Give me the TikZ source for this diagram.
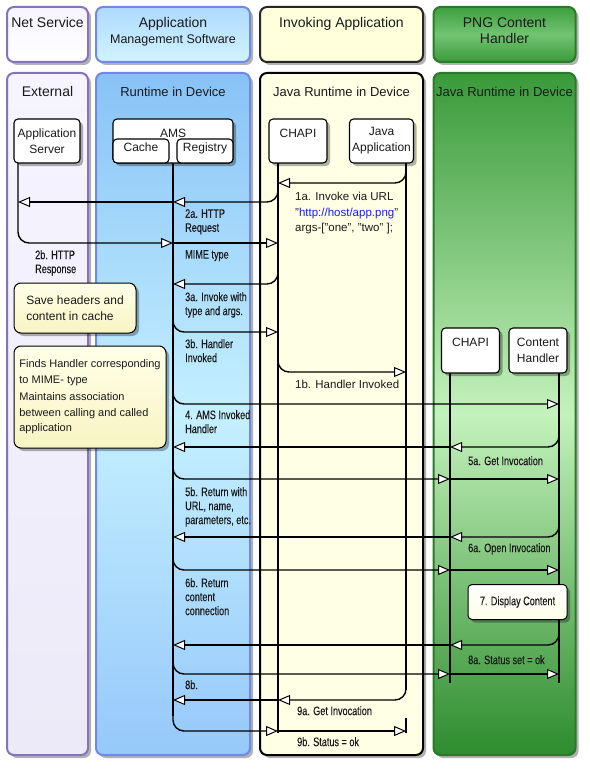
\documentclass[tikz,border=0pt]{standalone}
\usepackage{fontspec}
\setmainfont{Liberation Sans}
\newfontfamily\narrowfont[FakeStretch=0.74,FakeBold=0.25]{Liberation Sans}
\usetikzlibrary{arrows.meta,shadows}
\definecolor{lavB}{HTML}{8474BC}
\definecolor{lavTop}{HTML}{F6F4FF}
\definecolor{lavBot}{HTML}{ECEAF8}
\definecolor{blueB}{HTML}{7088E6}
\definecolor{blueTop}{HTML}{88C2F6}
\definecolor{blueMid}{HTML}{C4F0FF}
\definecolor{blueBot}{HTML}{96C8FA}
\definecolor{blueHTop}{HTML}{AEDAFF}
\definecolor{blueHBot}{HTML}{D2F4FF}
\definecolor{yelF}{HTML}{FFFFE6}
\definecolor{yelH}{HTML}{FFFFDC}
\definecolor{grnB}{HTML}{2A7A2A}
\definecolor{grnTop}{HTML}{3A9A3A}
\definecolor{grnMid}{HTML}{C4F2BC}
\definecolor{grnBot}{HTML}{2E8C2E}
\definecolor{grnHTop}{HTML}{3E9E3E}
\definecolor{grnHMid}{HTML}{72C472}
\definecolor{noteTop}{HTML}{FFFFE8}
\definecolor{noteBot}{HTML}{F8F4C4}
\definecolor{linkblue}{HTML}{1A1AFF}
\definecolor{ink}{HTML}{1A1A1A}
\tikzset{
  myshadow/.style={drop shadow={shadow xshift=3pt,shadow yshift=-3pt,opacity=0.3,fill=black}},
  lane/.style={rounded corners=7pt, line width=2pt, inner sep=0pt, myshadow},
  obj/.style={draw=black, line width=1.1pt, rounded corners=4pt, fill=white, inner sep=0pt,
    align=center, font=\fontsize{12}{16}\selectfont, text=ink, myshadow},
  sub/.style={draw=black, line width=1.1pt, rounded corners=4pt, fill=white, inner sep=0pt,
    align=center, font=\fontsize{12}{16}\selectfont, text=ink, text height=6pt, text depth=4.5pt},
  note/.style={draw=black, line width=1pt, rounded corners=7pt, top color=noteTop, bottom color=noteBot,
    inner sep=0pt, align=left, text=ink, myshadow},
  life/.style={line width=1.3pt},
  msg/.style={line width=1.4pt, rounded corners=11pt,
    -{Triangle[length=12pt,width=10pt,fill=white,line width=1pt]}},
  lbl/.style={font=\narrowfont\fontsize{12.3}{14}\selectfont, anchor=north west, inner sep=0pt, align=left, text=ink},
  rlbl/.style={font=\fontsize{11.5}{15.5}\selectfont, anchor=north west, inner sep=0pt, align=left, text=ink},
  htxt/.style={font=\fontsize{14}{16}\selectfont, anchor=base, inner sep=0pt, text=ink},
  ttxt/.style={font=\fontsize{13}{16}\selectfont, anchor=base, inner sep=0pt, text=ink},
}
\begin{document}
\begin{tikzpicture}[x=1pt,y=-1pt]
\useasboundingbox[fill=white] (0,0) rectangle (589,773);

% headers
\node[lane, draw=lavB, top color=lavTop, bottom color=white, minimum width=81pt, minimum height=55pt] (nsHead) at (47.5,34.5) {};
\node[lane, draw=blueB, top color=blueHTop, bottom color=blueHBot, minimum width=154pt, minimum height=55pt] (amsHead) at (173,34.5) {};
\node[lane, draw=black!85, fill=yelH, minimum width=163pt, minimum height=55pt] (invHead) at (341.5,34.5) {};
\node[lane, draw=grnB, top color=grnHTop, bottom color=grnTop, middle color=grnHMid, minimum width=142pt, minimum height=55pt] (pngHead) at (504.5,34.5) {};

\node[htxt] (tNs) at (47.5,28) {Net Service};
\node[htxt] (tAms1) at (173,28) {Application};
\node[htxt, font=\fontsize{12.5}{15}\selectfont] (tAms2) at (173,43.5) {Management Software};
\node[htxt] (tInv) at (341.5,28) {Invoking Application};
\node[htxt] (tPng1) at (504.5,28) {PNG Content};
\node[htxt] (tPng2) at (504.5,44) {Handler};

% lanes
\node[lane, draw=lavB, top color=lavTop, bottom color=lavBot, minimum width=81pt, minimum height=682pt] (extLane) at (47.5,414) {};
\node[lane, draw=blueB, top color=blueTop, bottom color=blueBot, middle color=blueMid, minimum width=154pt, minimum height=682pt] (rtLane) at (173,414) {};
\node[lane, draw=black, fill=yelF, minimum width=163pt, minimum height=682pt] (jrLane) at (341.5,414) {};
\node[lane, draw=grnB, top color=grnTop, bottom color=grnBot, middle color=grnMid, minimum width=142pt, minimum height=682pt] (grLane) at (504.5,414) {};

\node[ttxt, font=\fontsize{14}{16}\selectfont] (tExt) at (47.5,97) {External};
\node[ttxt] (tRt) at (173,97) {Runtime in Device};
\node[ttxt] (tJr) at (341.5,97) {Java Runtime in Device};
\node[ttxt] (tGr) at (504.5,97) {Java Runtime in Device};

% notes
\node[note, font=\fontsize{12}{16}\selectfont, minimum width=122pt, minimum height=50pt] (saveNote) at (75,308) {Save headers and\\content in cache};
\node[note, font=\fontsize{11}{15.5}\selectfont, minimum width=152pt, minimum height=102pt] (findNote) at (90,397)
  {Finds Handler corresponding\\to MIME- type\\[2pt]Maintains association\\between calling and called\\application};

% object centres and lifeline tops
\path (47,141) coordinate (asC) (173,141) coordinate (amsC) (298,141) coordinate (chapiAC)
      (381.5,141) coordinate (javaC) (470.5,350.5) coordinate (chapiBC) (538,350.5) coordinate (contentC);
\coordinate (asL) at (18,163);
\coordinate (amsL) at (173,139);
\coordinate (chA) at (278,163);
\coordinate (jaL) at (406,163);
\coordinate (chB) at (450,373);
\coordinate (chL) at (559,373);

% lifelines
\draw[life] (amsL) -- (amsL |- 0,716);
\draw[life] (chA) -- (chA |- 0,733);
\draw[life] (jaL) -- (jaL |- 0,690);
\draw[life] (jaL |- 0,718) -- (jaL |- 0,733);
\draw[life] (chB) -- (chB |- 0,683);
\draw[life] (chL) -- (chL |- 0,683);

% messages
\draw[msg] (jaL |- 0,166) |- (chA |- 0,183);
\draw[msg] (chA |- 0,186) |- (amsL |- 0,202);
\draw[msg] (amsL |- 0,202) -- (asL |- 0,202);
\draw[msg] (asL) |- (amsL |- 0,243);
\draw[msg] (amsL |- 0,243) -- (chA |- 0,243);
\draw[msg] (chA |- 0,268) |- (amsL |- 0,284);
\draw[msg] (amsL |- 0,316) |- (chA |- 0,332);
\draw[msg] (chA |- 0,356) |- (jaL |- 0,372);
\draw[msg] (amsL |- 0,388) |- (chL |- 0,404);
\draw[msg] (chL |- 0,431) |- (chB |- 0,447);
\draw[msg] (chB |- 0,447) -- (amsL |- 0,447);
\draw[msg] (amsL |- 0,463) |- (chB |- 0,479);
\draw[msg] (chB |- 0,479) -- (chL |- 0,479);
\draw[msg] (chL |- 0,521) |- (chB |- 0,537);
\draw[msg] (chB |- 0,537) -- (amsL |- 0,537);
\draw[msg] (amsL |- 0,554) |- (chB |- 0,570);
\draw[msg] (chB |- 0,570) -- (chL |- 0,570);
\draw[msg] (chL |- 0,629) |- (chB |- 0,645);
\draw[msg] (chB |- 0,645) -- (amsL |- 0,645);
\draw[msg] (amsL |- 0,658) |- (chB |- 0,674);
\draw[msg] (chB |- 0,674) -- (chL |- 0,674);
\draw[msg] (jaL |- 0,684) |- (chA |- 0,700);
\draw[msg] (chA |- 0,700) -- (amsL |- 0,700);
\draw[msg] (amsL |- 0,715) |- (chA |- 0,731);
\draw[msg] (chA |- 0,731) -- (jaL |- 0,731);

% object boxes
\node[obj, minimum width=66pt, minimum height=44pt] (asBox) at (asC) {Application\\Server};
\node[obj, minimum width=120pt, minimum height=44pt] (amsBox) at (amsC) {AMS\\\mbox{}};
\node[sub, minimum width=56pt, minimum height=24pt] (cacheBox) at (141,151) {Cache};
\node[sub, minimum width=56pt, minimum height=24pt] (regBox) at (205,151) {Registry};
\node[obj, minimum width=58pt, minimum height=44pt] (chapiA) at (chapiAC) {CHAPI\\\mbox{}};
\node[obj, minimum width=64pt, minimum height=44pt] (javaApp) at (javaC) {Java\\Application};
\node[obj, minimum width=58pt, minimum height=45pt] (chapiB) at (chapiBC) {CHAPI\\\mbox{}};
\node[obj, minimum width=58pt, minimum height=45pt] (contentH) at (contentC) {Content\\Handler};
\node[note, draw=black, line width=1pt, rounded corners=4pt, top color=white, bottom color=noteTop,
      font=\narrowfont\fontsize{12.3}{14}\selectfont, minimum width=99pt, minimum height=35pt, align=center] (display) at (517.5,602) {7. Display Content};

% labels
\node[rlbl] (l1a) at (295,192) {1a. Invoke via URL\\"\textcolor{linkblue}{http://host/app.png}"\\args-["one", "two" ];};
\node[rlbl] (l1b) at (295,380) {1b. Handler Invoked};
\node[lbl] (l2a) at (185,209) {2a. HTTP\\Request};
\node[lbl] (lMime) at (185,250) {MIME type};
\node[lbl] (l2b) at (35,250) {2b. HTTP\\Response};
\node[lbl] (l3a) at (185,292) {3a. Invoke with\\type and args.};
\node[lbl] (l3b) at (185,339) {3b. Handler\\Invoked};
\node[lbl] (l4) at (185,410) {4. AMS Invoked\\Handler};
\node[lbl] (l5b) at (185,487) {5b. Return with\\URL, name,\\parameters, etc.};
\node[lbl] (l6b) at (185,578) {6b. Return\\content\\connection};
\node[lbl] (l8b) at (185,680) {8b.};
\node[lbl] (l5a) at (468,456) {5a. Get Invocation};
\node[lbl] (l6a) at (468,543) {6a. Open Invocation};
\node[lbl] (l8a) at (468,655) {8a. Status set = ok};
\node[lbl] (l9a) at (297,706) {9a. Get Invocation};
\node[lbl] (l9b) at (297,737) {9b. Status = ok};
\end{tikzpicture}
\end{document}
